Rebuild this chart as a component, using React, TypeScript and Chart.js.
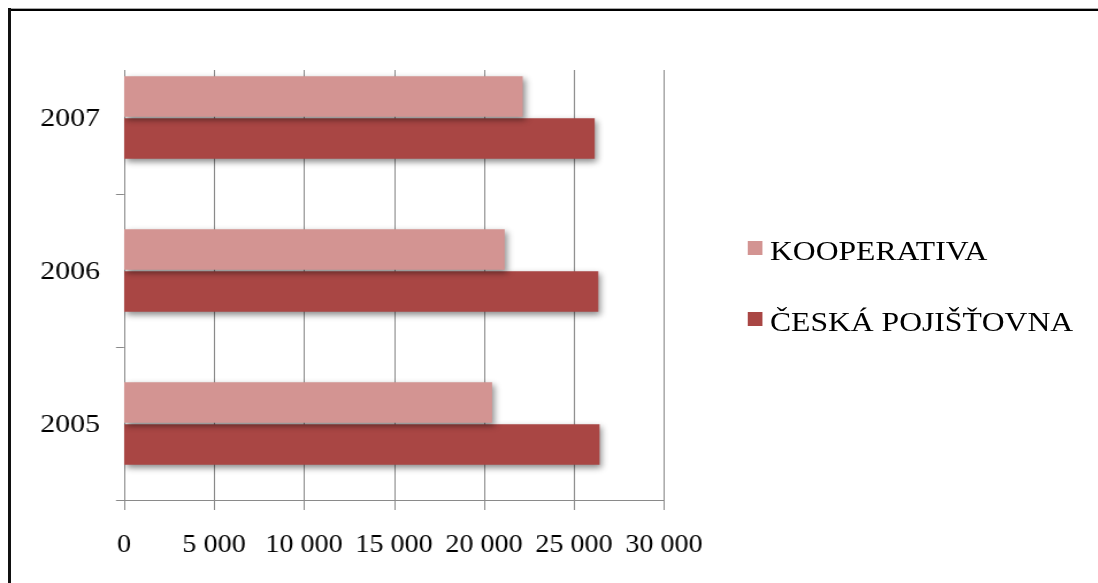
import React, { useEffect, useRef } from "react";
import { Chart, registerables } from "chart.js";

Chart.register(...registerables);

const categories = ["2007", "2006", "2005"];
const seriesNames = ["KOOPERATIVA", "ČESKÁ POJIŠŤOVNA"];
const kooperativa = [22150, 21150, 20450];
const ceskaPojistovna = [26150, 26350, 26420];
const xTickValues = [0, 5000, 10000, 15000, 20000, 25000, 30000];
const seriesColors = ["#d39492", "#a94644"];

const FONT = "'Liberation Serif', 'Times New Roman', serif";
const STRETCH = 1.15;
const PAGE_W = 1098;
const PAGE_H = 583;
const CANVAS_W = Math.round(PAGE_W / STRETCH);
const GRID_TOP_INSET = 29;
const VTICK_LEN = 10;
const HTICK_LEN = 7;

function fmt(v: number) {
  return String(v).replace(/\B(?=(\d{3})+(?!\d))/g, " ");
}

const gridPlugin = {
  id: "customGrid",
  beforeDatasetsDraw(chart: any) {
    const { ctx, chartArea } = chart;
    const x = chart.scales.x;
    const y = chart.scales.y;
    const top = chartArea.top + GRID_TOP_INSET;
    const bottom = chartArea.bottom;
    ctx.save();
    ctx.strokeStyle = "#8a8a8a";
    ctx.lineWidth = 1;
    ctx.beginPath();
    xTickValues.forEach((v) => {
      const px = Math.round(x.getPixelForValue(v)) + 0.5;
      ctx.moveTo(px, top);
      ctx.lineTo(px, bottom + VTICK_LEN);
    });
    const n = categories.length;
    for (let i = 0; i < n - 1; i++) {
      const py = Math.round((y.getPixelForValue(i) + y.getPixelForValue(i + 1)) / 2) + 0.5;
      ctx.moveTo(chartArea.left - HTICK_LEN, py);
      ctx.lineTo(chartArea.left, py);
    }
    const by = Math.round(bottom) + 0.5;
    ctx.moveTo(chartArea.left - HTICK_LEN, by);
    ctx.lineTo(x.getPixelForValue(xTickValues[xTickValues.length - 1]), by);
    ctx.stroke();
    ctx.restore();
    ctx.save();
    ctx.shadowColor = "rgba(0,0,0,0.45)";
    ctx.shadowBlur = 6;
    ctx.shadowOffsetX = 2;
    ctx.shadowOffsetY = 3;
  },
  afterDatasetsDraw(chart: any) {
    chart.ctx.restore();
  },
};

export default function App() {
  const ref = useRef<HTMLCanvasElement>(null);
  useEffect(() => {
    if (!ref.current) return;
    const plotLeft = 124 / STRETCH;
    const plotRight = 664 / STRETCH;
    const yAxisW = 100;
    const chart = new Chart(ref.current, {
      type: "bar",
      data: {
        labels: categories,
        datasets: [
          {
            label: seriesNames[0],
            data: kooperativa,
            backgroundColor: seriesColors[0],
            barPercentage: 0.96,
            categoryPercentage: 0.55,
          },
          {
            label: seriesNames[1],
            data: ceskaPojistovna,
            backgroundColor: seriesColors[1],
            barPercentage: 0.96,
            categoryPercentage: 0.55,
          },
        ],
      },
      plugins: [gridPlugin],
      options: {
        indexAxis: "y",
        animation: false,
        responsive: false,
        maintainAspectRatio: false,
        layout: {
          padding: { left: plotLeft - yAxisW, top: 41, right: CANVAS_W - plotRight, bottom: 0 },
        },
        plugins: { legend: { display: false }, tooltip: { enabled: false } },
        scales: {
          x: {
            min: 0,
            max: 30000,
            afterBuildTicks: (s: any) => {
              s.ticks = xTickValues.map((v) => ({ value: v }));
            },
            afterFit: (s: any) => {
              s.height = PAGE_H - 500;
            },
            grid: { display: false, drawTicks: false, tickLength: 0 },
            border: { display: false },
            ticks: {
              color: "#000",
              padding: 31,
              maxRotation: 0,
              autoSkip: false,
              font: { family: FONT, size: 24.5 },
              callback: (v: any) => fmt(Number(v)),
            },
          },
          y: {
            afterFit: (s: any) => {
              s.width = yAxisW;
            },
            grid: { display: false, drawTicks: false, tickLength: 0 },
            border: { display: false },
            ticks: {
              color: "#000",
              padding: plotLeft - 100 / STRETCH,
              labelOffset: 2,
              font: { family: FONT, size: 26 },
            },
          },
        },
      },
    });
    return () => chart.destroy();
  }, []);

  const legendItem = (i: number, top: number) => (
    <div key={i} style={{ position: "absolute", left: 747 / STRETCH, top, height: 40, whiteSpace: "nowrap" }}>
      <div
        style={{
          position: "absolute",
          left: 0,
          top: 4,
          width: 13,
          height: 14,
          background: seriesColors[i],
        }}
      />
      <div
        style={{
          position: "absolute",
          left: 23 / STRETCH,
          top: 0,
          fontFamily: FONT,
          fontSize: 27.5,
          lineHeight: "27px",
          color: "#000",
        }}
      >
        {seriesNames[i]}
      </div>
    </div>
  );

  return (
    <div style={{ position: "fixed", left: 0, top: 0, width: PAGE_W, height: PAGE_H, overflow: "hidden", background: "#fff" }}>
      <div style={{ position: "absolute", left: 8, top: 8, width: 3000, height: 1, background: "#aaa" }} />
      <div style={{ position: "absolute", left: 8, top: 9, width: 3000, height: 2, background: "#000" }} />
      <div style={{ position: "absolute", left: 8, top: 8, width: 3, height: 3000, background: "#111" }} />
      <div
        style={{
          position: "absolute",
          left: 0,
          top: 0,
          width: CANVAS_W,
          height: PAGE_H,
          transform: `scaleX(${STRETCH})`,
          transformOrigin: "0 0",
        }}
      >
        <canvas
          ref={ref}
          width={CANVAS_W}
          height={PAGE_H}
          style={{ position: "absolute", left: 0, top: 0, width: CANVAS_W, height: PAGE_H }}
        />
        {legendItem(0, 237)}
        {legendItem(1, 308)}
      </div>
    </div>
  );
}
